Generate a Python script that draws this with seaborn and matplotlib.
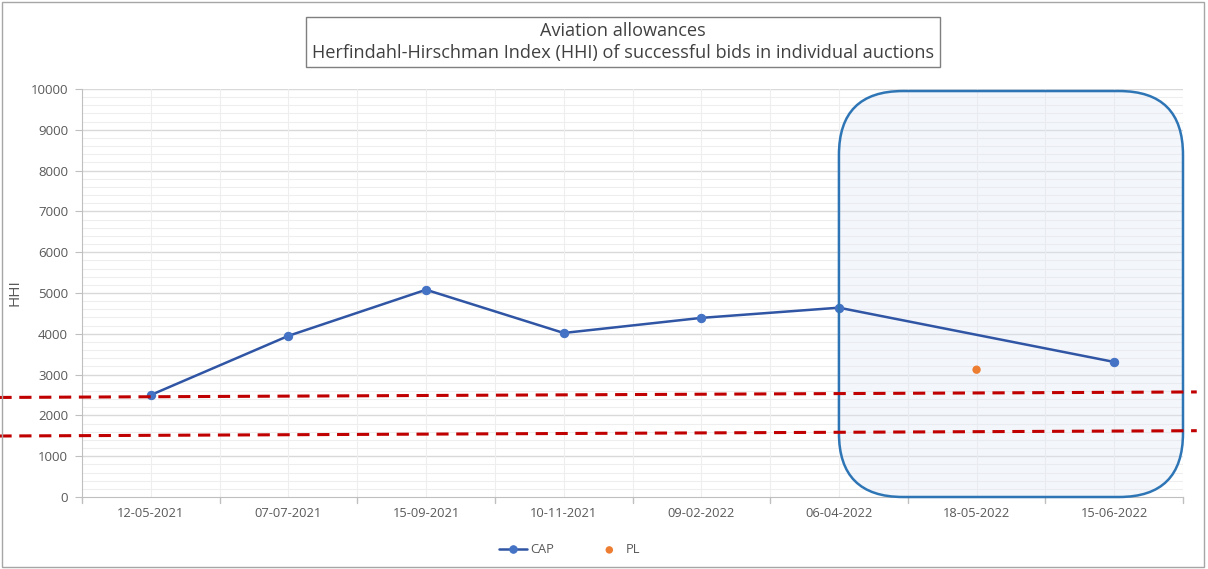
import matplotlib.pyplot as plt
import seaborn as sns
import numpy as np
import pandas as pd
from matplotlib.patches import FancyBboxPatch, Rectangle

# auction dates and HHI values
dates = ['12-05-2021', '07-07-2021', '15-09-2021', '10-11-2021',
         '09-02-2022', '06-04-2022', '18-05-2022', '15-06-2022']
cap = [2500, 3950, 5080, 4020, 4390, 4640, np.nan, 3310]
pl = [np.nan, np.nan, np.nan, np.nan, np.nan, np.nan, 3120, np.nan]

# the two red dashed threshold lines (drawn shapes, slightly sloped)
thr_x = [-1.1, 7.6]
thr_high = [2440, 2575]
thr_low = [1495, 1625]

df = pd.DataFrame({'pos': np.arange(len(dates)), 'date': dates, 'CAP': cap, 'PL': pl})

sns.set_style('white')
plt.rcParams['font.family'] = ['Open Sans', 'DejaVu Sans']

fig = plt.figure(figsize=(12.08, 5.69), dpi=100)
ax = fig.add_axes([82 / 1208, 1 - 497 / 569, 1101 / 1208, 408 / 569])

grey = '#595959'

# gridlines
ax.set_ylim(0, 10000)
ax.set_xlim(-0.5, 7.5)
for y in np.arange(200, 10001, 200):
    major = y % 1000 == 0
    ax.axhline(y, color='#d9d9d9' if major else '#eeeeee', lw=1.0 if major else 0.8, zorder=0)
for x in np.arange(0, 8):
    ax.axvline(x, color='#eeeeee', lw=0.8, zorder=0)
    ax.axvline(x + 0.5, color='#eeeeee', lw=0.8, zorder=0)

# highlighted rounded box over the last auctions
for face, edge, z in [('#dfe6f3', 'none', 1), ('none', '#2e75b6', 4)]:
    box = FancyBboxPatch((5.5 / 8, 0.0), 2.5 / 8, 0.995,
                         boxstyle='round,pad=0,rounding_size=0.058',
                         mutation_aspect=1101 / 408,
                         transform=ax.transAxes, facecolor=face,
                         alpha=0.35 if edge == 'none' else 1,
                         edgecolor=edge, lw=1.8, zorder=z, clip_on=False)
    ax.add_patch(box)

sns.lineplot(data=df, x='pos', y='CAP', ax=ax, color='#2f55a4', lw=1.8,
             marker='o', markersize=6, markerfacecolor='#4472c4',
             markeredgecolor='#4472c4', label='CAP', zorder=3)
sns.scatterplot(data=df, x='pos', y='PL', ax=ax, color='#ed7d31', s=36,
                edgecolor='none', label='PL', zorder=3)

ax.plot(thr_x, thr_high, color='#c00000', ls=(0, (4, 2.5)), lw=2.2, clip_on=False, zorder=5)
ax.plot(thr_x, thr_low, color='#c00000', ls=(0, (4, 2.5)), lw=2.2, clip_on=False, zorder=5)

# axes styling
ax.set_yticks(np.arange(0, 10001, 1000))
ax.set_yticklabels([str(v) for v in range(0, 10001, 1000)], fontsize=9.5, color=grey)
ax.set_xticks(np.arange(len(dates)))
ax.set_xticklabels(dates, fontsize=9.3, color=grey)
ax.tick_params(axis='x', length=0, pad=7)
ax.tick_params(axis='y', length=5, color='#bfbfbf', direction='out', left=True, pad=5)
for x in np.arange(-0.5, 8, 1):
    ax.plot([x, x], [0, -150], color='#bfbfbf', lw=1, clip_on=False)
for s in ['top', 'right']:
    ax.spines[s].set_visible(False)
for s in ['left', 'bottom']:
    ax.spines[s].set_color('#bfbfbf')
ax.set_xlabel('')
ax.set_ylabel('HHI', fontsize=11, color=grey, labelpad=6)

ax.legend(loc='upper center', bbox_to_anchor=(0.443, -0.085), ncol=2, frameon=False,
          fontsize=9.3, labelcolor=grey, columnspacing=3.2, handlelength=2.2,
          handletextpad=0.2, markerscale=0.9)

# title box
fig.text(623 / 1208, 1 - 42 / 569,
         'Aviation allowances\nHerfindahl-Hirschman Index (HHI) of successful bids in individual auctions',
         ha='center', va='center', fontsize=13.1, color='#404040', linespacing=1.25,
         bbox=dict(boxstyle='square,pad=0.3', facecolor='white', edgecolor='#7f7f7f', lw=1))

# outer figure border
fig.patches.append(Rectangle((0.002, 0.003), 0.995, 0.994, transform=fig.transFigure,
                             fill=False, edgecolor='#a6a6a6', lw=1))

fig.savefig('out.png', dpi=100)
